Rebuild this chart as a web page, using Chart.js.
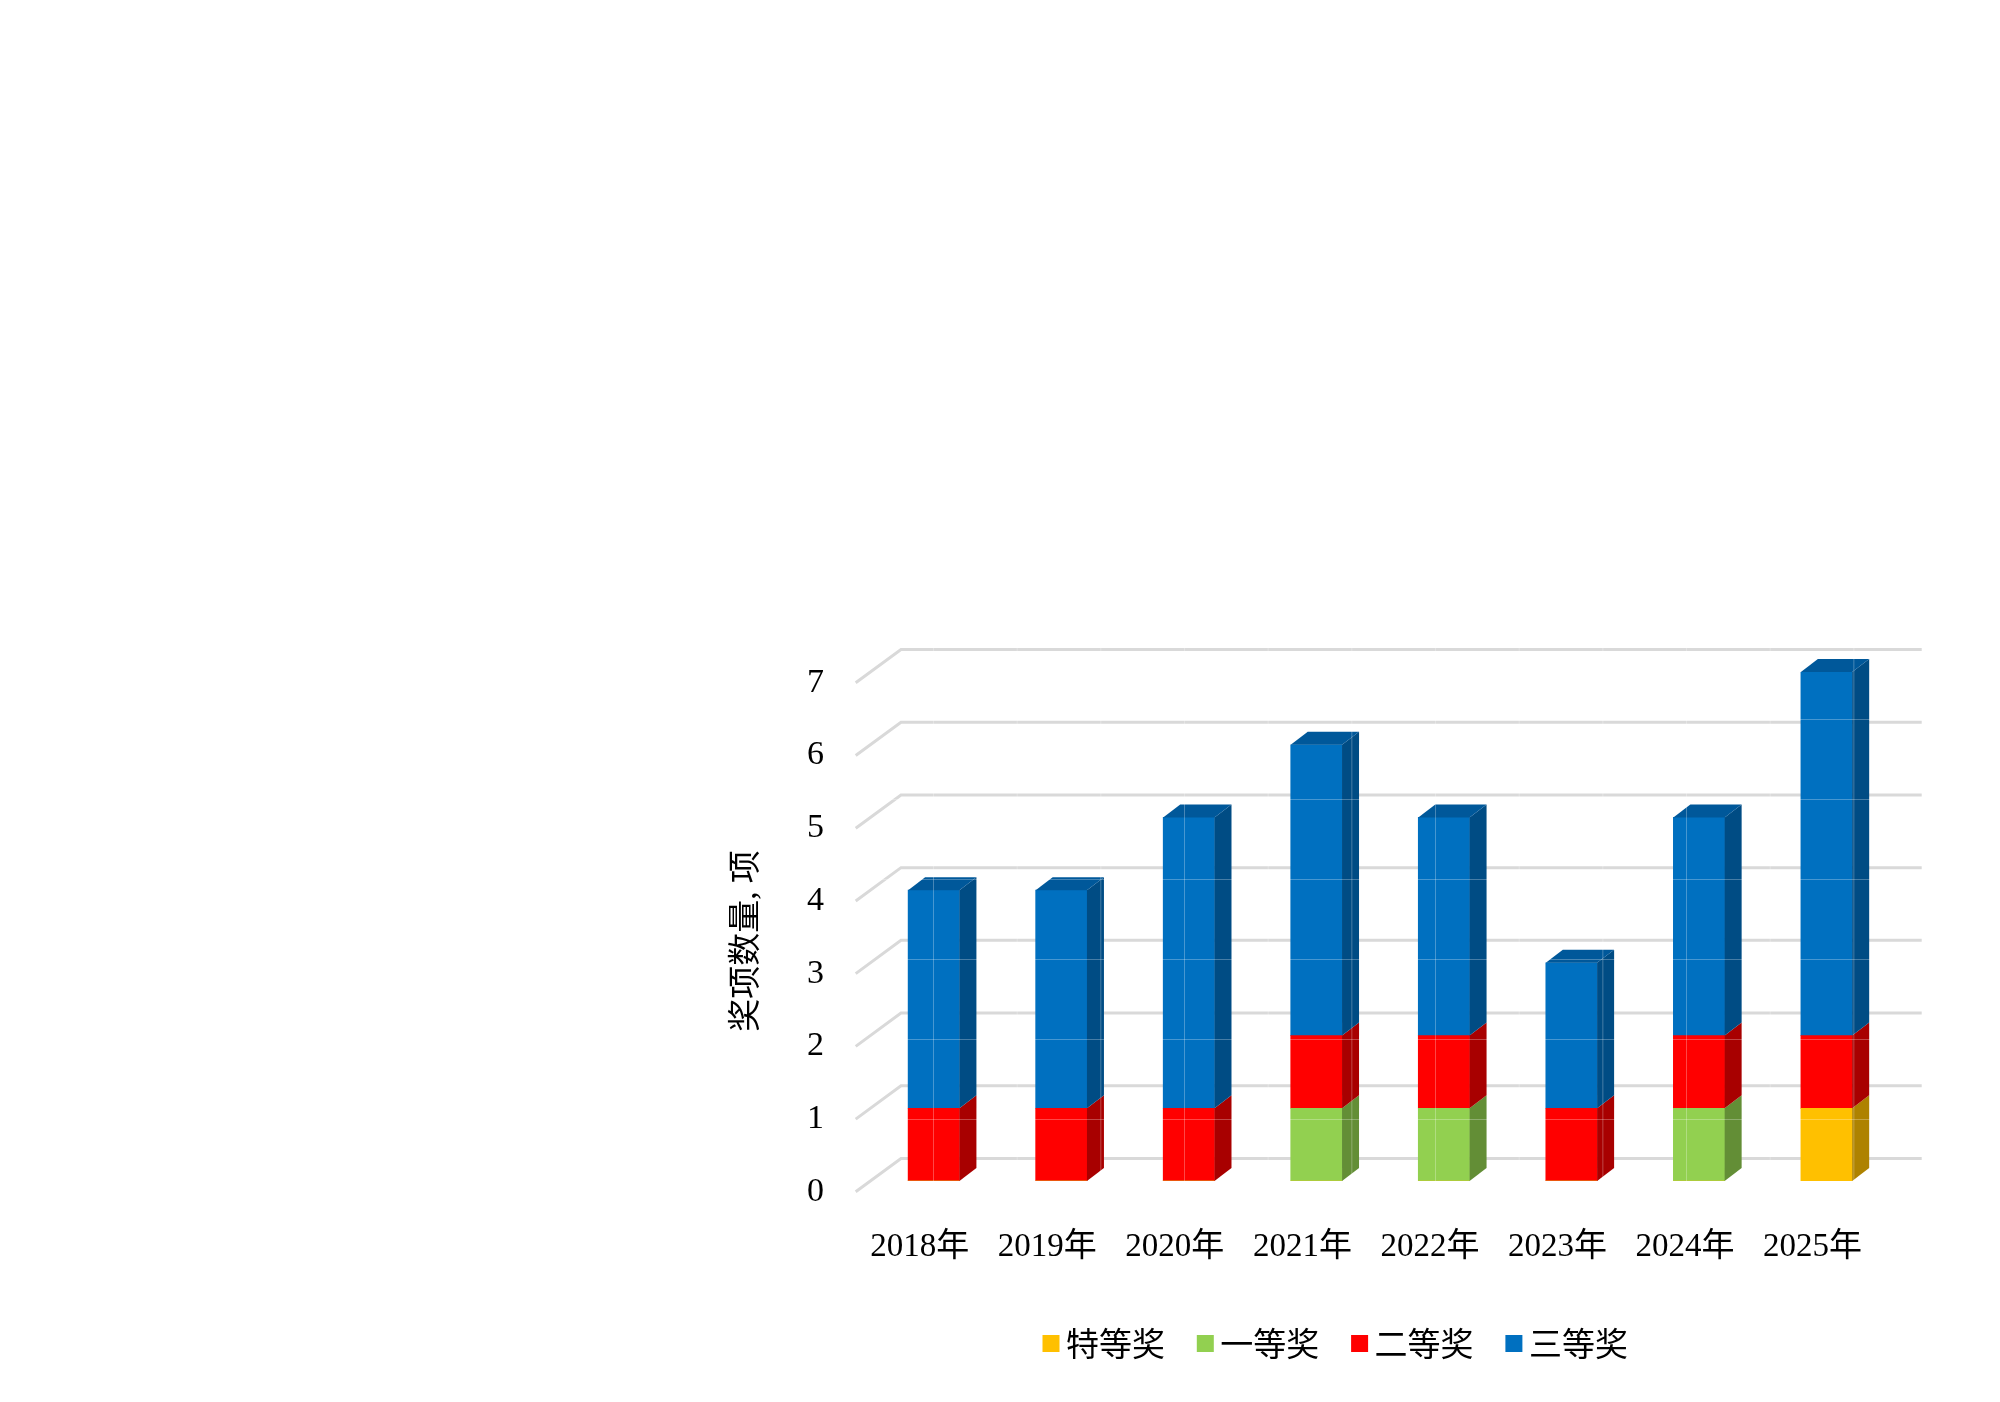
<!DOCTYPE html>
<html>
<head>
<meta charset="utf-8">
<script src="https://cdn.jsdelivr.net/npm/chart.js@4"></script>
<style>
  html, body { margin: 0; padding: 0; background: #fff; }
  canvas { display: block; }
</style>
</head>
<body>
<canvas id="awardChart" width="2000" height="1402"></canvas>
<script>
// Données
const years = ['2018年', '2019年', '2020年', '2021年', '2022年', '2023年', '2024年', '2025年'];
const specialPrize = [0, 0, 0, 0, 0, 0, 0, 1];
const firstPrize = [0, 0, 0, 1, 1, 0, 1, 0];
const secondPrize = [1, 1, 1, 1, 1, 1, 1, 1];
const thirdPrize = [3, 3, 4, 4, 3, 2, 3, 5];
const yTicks = [0, 1, 2, 3, 4, 5, 6, 7];
const yTitle = '奖项数量, 项';

const FONT = '"Liberation Serif", "Noto Sans CJK SC", serif';

// Fausse 3D : profondeur des barres et décalage du mur du fond
const barDepthX = 17, barDepthY = 13;
const wallFront = { x: 855.7, dy: 10.8 };
const wallBack = { x: 901, right: 1921.7, dy: -22.5 };

// Face avant, côté, dessus
const shades = {
  '#FFC000': { side: '#AE8200', top: '#C49400' },
  '#92D050': { side: '#638E36', top: '#70A03E' },
  '#FF0000': { side: '#A80000', top: '#C40000' },
  '#0070C0': { side: '#004C84', top: '#00589A' }
};

const wallPlugin = {
  id: 'wall',
  beforeDatasetsDraw(chart) {
    const ctx = chart.ctx, y = chart.scales.y;
    ctx.save();
    ctx.strokeStyle = '#D9D9D9';
    ctx.lineWidth = 3;
    yTicks.forEach(v => {
      const p = y.getPixelForValue(v);
      ctx.beginPath();
      ctx.moveTo(wallFront.x, p + wallFront.dy);
      ctx.lineTo(wallBack.x, p + wallBack.dy);
      ctx.lineTo(wallBack.right, p + wallBack.dy);
      ctx.stroke();
    });
    ctx.restore();
  }
};

// Dessine les côtés et le dessus à partir des barres calculées par Chart.js
const extrudePlugin = {
  id: 'extrude',
  afterDatasetsDraw(chart) {
    const ctx = chart.ctx;
    const poly = (pts, color) => {
      ctx.fillStyle = color;
      ctx.beginPath();
      pts.forEach((q, i) => i ? ctx.lineTo(q[0], q[1]) : ctx.moveTo(q[0], q[1]));
      ctx.closePath();
      ctx.fill();
    };
    ctx.save();
    years.forEach((_, j) => {
      let lastBar = null, lastColor = null;
      chart.data.datasets.forEach((ds, i) => {
        if (!ds.data[j]) return;
        const bar = chart.getDatasetMeta(i).data[j];
        const r = bar.x + bar.width / 2;
        poly([[r, bar.base], [r + barDepthX, bar.base - barDepthY], [r + barDepthX, bar.y - barDepthY], [r, bar.y]], shades[ds.backgroundColor].side);
        lastBar = bar;
        lastColor = ds.backgroundColor;
      });
      const l = lastBar.x - lastBar.width / 2, r = lastBar.x + lastBar.width / 2, t = lastBar.y;
      poly([[l, t], [r, t], [r + barDepthX, t - barDepthY], [l + barDepthX, t - barDepthY]], shades[lastColor].top);
    });

    // Les fines lignes claires visibles sur les barres de l'original
    ctx.strokeStyle = 'rgba(255, 255, 255, 0.28)';
    ctx.lineWidth = 1;
    ctx.beginPath();
    for (let x = 933.5; x < 1900; x += 83.67) { ctx.moveTo(x, 640); ctx.lineTo(x, 1190); }
    for (let s = 719.5; s < 1190; s += 80) { ctx.moveTo(880, s); ctx.lineTo(1900, s); }
    ctx.stroke();
    ctx.restore();
  }
};

// Titre de l'axe Y et légende (l'écart case / texte n'est pas réglable dans la légende native)
const textPlugin = {
  id: 'texts',
  afterDraw(chart) {
    const ctx = chart.ctx;
    ctx.save();
    ctx.fillStyle = '#000';
    ctx.textBaseline = 'middle';
    ctx.font = '33px ' + FONT;

    ctx.save();
    ctx.translate(747, 941);
    ctx.rotate(-Math.PI / 2);
    ctx.textAlign = 'center';
    ctx.fillText(yTitle, 0, 0);
    ctx.restore();

    ctx.textAlign = 'left';
    chart.data.datasets.forEach((ds, i) => {
      const x = 1042.5 + i * 154.3;
      ctx.fillStyle = ds.backgroundColor;
      ctx.fillRect(x, 1335, 17, 17);
      ctx.fillStyle = '#000';
      ctx.fillText(ds.label, x + 23.5, 1347);
    });
    ctx.restore();
  }
};

new Chart(document.getElementById('awardChart').getContext('2d'), {
  type: 'bar',
  data: {
    labels: years,
    datasets: [
      { label: '特等奖', data: specialPrize, backgroundColor: '#FFC000' },
      { label: '一等奖', data: firstPrize, backgroundColor: '#92D050' },
      { label: '二等奖', data: secondPrize, backgroundColor: '#FF0000' },
      { label: '三等奖', data: thirdPrize, backgroundColor: '#0070C0' }
    ]
  },
  options: {
    responsive: false,
    animation: false,
    devicePixelRatio: 1,
    layout: { padding: { left: 770, right: 109.7, top: 672, bottom: 100 } },
    datasets: { bar: { barThickness: 51.3, borderWidth: 0 } },
    plugins: { legend: { display: false }, tooltip: { enabled: false } },
    scales: {
      x: {
        stacked: true,
        grid: { display: false },
        border: { display: false },
        afterFit: s => { s.height = 1402 - 100 - 1181; },
        ticks: {
          color: '#000',
          padding: 39,
          labelOffset: -14,
          maxRotation: 0,
          autoSkip: false,
          font: { family: FONT, size: 33 }
        }
      },
      y: {
        stacked: true,
        min: 0,
        max: 7,
        afterFit: s => { s.width = 100; },
        grid: { display: false, drawTicks: false },
        border: { display: false },
        ticks: {
          color: '#000',
          padding: 46,
          stepSize: 1,
          labelOffset: 10.8,
          font: { family: FONT, size: 34 }
        }
      }
    }
  },
  plugins: [wallPlugin, extrudePlugin, textPlugin]
});
</script>
</body>
</html>
